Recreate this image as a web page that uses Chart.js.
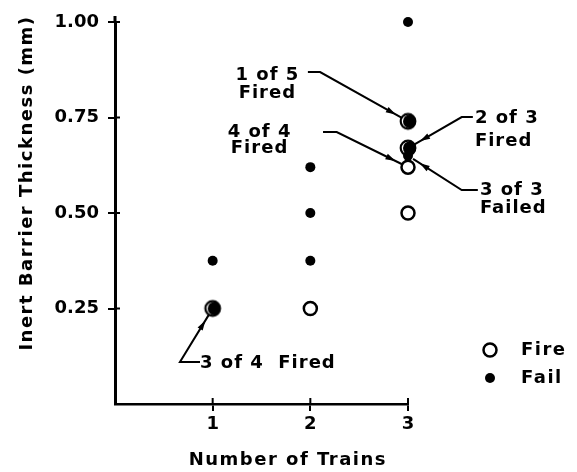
<!DOCTYPE html>
<html>
<head>
<meta charset="utf-8">
<script src="https://cdn.jsdelivr.net/npm/chart.js@4"></script>
<style>
  html, body { margin: 0; padding: 0; background: #fff; }
  #wrap { width: 577px; height: 472px; }
</style>
</head>
<body>
<div id="wrap"><canvas id="c"></canvas></div>
<script>
// data
const xTicks = [1, 2, 3];
const yTicks = [0.25, 0.50, 0.75, 1.00];
const fireX = [2, 3, 3];
const fireY = [0.25, 0.62, 0.50];
const failX = [1, 2, 2, 2, 3, 3];
const failY = [0.375, 0.62, 0.50, 0.375, 1.00, 0.65];
const mixX = [1, 3, 3];
const mixY = [0.25, 0.74, 0.67];
const noteText = [['1 of 5', 'Fired'], ['4 of 4', 'Fired'], ['2 of 3', 'Fired'], ['3 of 3', 'Failed'], ['3 of 4  Fired']];
const noteX = [3, 3, 3, 3, 1];
const noteY = [0.74, 0.62, 0.67, 0.65, 0.25];

// where the labels sit (in axis units) - layout only
const noteLayout = [
  { tx: 1.56, ty: 0.861, align: 'center', gap: 18, s: [1.975, 0.869], k: [2.10, 0.869] },
  { tx: 1.48, ty: 0.712, align: 'center', gap: 16, s: [2.13, 0.712], k: [2.27, 0.712] },
  { tx: 3.685, ty: 0.749, align: 'left', gap: 23, s: [3.664, 0.751], k: [3.55, 0.751] },
  { tx: 3.736, ty: 0.56, align: 'left', gap: 18, s: [3.715, 0.56], k: [3.55, 0.56] },
  { tx: 0.87, ty: 0.107, align: 'left', gap: 18, s: [0.87, 0.11], k: [0.665, 0.11] }
];

const FONT = '"DejaVu Sans", sans-serif';

function pts(xs, ys) { return xs.map((x, i) => ({ x: x, y: ys[i] })); }

// open circle with a filled dot over it (mixed result)
const mixImg = document.createElement('canvas');
mixImg.width = 20; mixImg.height = 20;
(function () {
  const g = mixImg.getContext('2d');
  g.lineWidth = 2.2; g.strokeStyle = '#000'; g.fillStyle = '#fff';
  g.beginPath(); g.arc(10, 10, 7.3, 0, Math.PI * 2); g.fill(); g.stroke();
  g.fillStyle = '#000';
  g.beginPath(); g.arc(11.6, 10, 6.6, 0, Math.PI * 2); g.fill();
})();

function arrowHead(ctx, x0, y0, x1, y1) {
  const a = Math.atan2(y1 - y0, x1 - x0);
  const len = 10, w = 3;
  ctx.save();
  ctx.translate(x1, y1); ctx.rotate(a);
  ctx.beginPath();
  ctx.moveTo(0, 0); ctx.lineTo(-len, -w); ctx.lineTo(-len, w); ctx.closePath();
  ctx.fill();
  ctx.restore();
}

const extras = {
  id: 'extras',
  beforeDatasetsDraw(chart) {
    const ctx = chart.ctx, xs = chart.scales.x, ys = chart.scales.y;
    ctx.save();
    ctx.strokeStyle = '#000'; ctx.fillStyle = '#000'; ctx.lineWidth = 2;
    const a = chart.chartArea;
    // axis runs a bit past 1.00 at the top
    ctx.lineWidth = 3;
    ctx.beginPath(); ctx.moveTo(a.left, a.top); ctx.lineTo(a.left, a.top - 6); ctx.stroke();
    ctx.lineWidth = 2;
    // inner halves of tick marks
    yTicks.forEach(v => {
      const py = ys.getPixelForValue(v);
      ctx.beginPath(); ctx.moveTo(a.left, py); ctx.lineTo(a.left + 5, py); ctx.stroke();
    });
    xTicks.forEach(v => {
      const px = xs.getPixelForValue(v);
      ctx.beginPath(); ctx.moveTo(px, a.bottom); ctx.lineTo(px, a.bottom - 6); ctx.stroke();
    });
    // leader lines
    noteLayout.forEach((n, i) => {
      const sx = xs.getPixelForValue(n.s[0]), sy = ys.getPixelForValue(n.s[1]);
      const kx = xs.getPixelForValue(n.k[0]), ky = ys.getPixelForValue(n.k[1]);
      const px = xs.getPixelForValue(noteX[i]), py = ys.getPixelForValue(noteY[i]);
      const d = Math.hypot(px - kx, py - ky);
      const ex = px - (px - kx) / d * 6, ey = py - (py - ky) / d * 6;
      ctx.beginPath(); ctx.moveTo(sx, sy); ctx.lineTo(kx, ky); ctx.lineTo(ex, ey); ctx.stroke();
      const hx = px - (px - kx) / d * 14, hy = py - (py - ky) / d * 14;
      arrowHead(ctx, kx, ky, hx, hy);
    });
    ctx.restore();
  },
  afterDraw(chart) {
    const ctx = chart.ctx, xs = chart.scales.x, ys = chart.scales.y, a = chart.chartArea;
    ctx.save();
    ctx.fillStyle = '#000';
    ctx.textBaseline = 'middle';
    ctx.font = 'bold 18px ' + FONT;
    ctx.letterSpacing = '1px';
    noteLayout.forEach((n, i) => {
      const tx = xs.getPixelForValue(n.tx), ty = ys.getPixelForValue(n.ty);
      ctx.textAlign = n.align;
      noteText[i].forEach((t, j) => ctx.fillText(t, tx, ty + j * n.gap));
    });
    // axis titles
    ctx.textAlign = 'center';
    ctx.letterSpacing = '1.5px';
    ctx.fillText('Number of Trains', a.left + (a.right - a.left) * 0.59, 460);
    ctx.save();
    ctx.translate(27, 183); ctx.rotate(-Math.PI / 2);
    ctx.fillText('Inert Barrier Thickness (mm)', 0, 0);
    ctx.restore();
    // legend
    ctx.letterSpacing = '1.5px';
    const lx = a.right + 82;
    ctx.lineWidth = 2.5; ctx.strokeStyle = '#000';
    ctx.beginPath(); ctx.arc(lx, 350, 6.5, 0, Math.PI * 2); ctx.stroke();
    ctx.beginPath(); ctx.arc(lx, 378, 5, 0, Math.PI * 2); ctx.fill();
    ctx.textAlign = 'left';
    ctx.fillText('Fire', lx + 31, 350);
    ctx.fillText('Fail', lx + 31, 378);
    ctx.restore();
  }
};

new Chart(document.getElementById('c'), {
  type: 'scatter',
  data: {
    datasets: [
      { label: 'Fire', data: pts(fireX, fireY), pointRadius: 6.5, pointBorderWidth: 2.5,
        pointBackgroundColor: '#fff', pointBorderColor: '#000', clip: false },
      { label: 'Fail', data: pts(failX, failY), pointRadius: 5, pointBorderWidth: 0,
        pointBackgroundColor: '#000', pointBorderColor: '#000', clip: false },
      { label: 'Mixed', data: pts(mixX, mixY), pointStyle: mixImg, clip: false }
    ]
  },
  options: {
    responsive: true,
    maintainAspectRatio: false,
    animation: false,
    events: [],
    layout: { padding: { left: 0, right: 169, top: 22, bottom: 0 } },
    plugins: { legend: { display: false }, tooltip: { enabled: false } },
    scales: {
      x: {
        type: 'linear', min: 0, max: 3,
        afterFit(s) { s.height = 68; },
        afterBuildTicks(s) { s.ticks = xTicks.map(v => ({ value: v })); },
        border: { display: true, color: '#000', width: 2.5 },
        grid: { drawOnChartArea: false, drawTicks: true, tickLength: 7, color: '#000', lineWidth: 2 },
        ticks: { color: '#000', padding: 3, font: { family: FONT, size: 18, weight: 'bold' },
                 maxRotation: 0, callback: v => String(v) }
      },
      y: {
        type: 'linear', min: 0, max: 1,
        afterFit(s) { s.width = 115; },
        afterBuildTicks(s) { s.ticks = yTicks.map(v => ({ value: v })); },
        border: { display: true, color: '#000', width: 3 },
        grid: { drawOnChartArea: false, drawTicks: true, tickLength: 7, color: '#000', lineWidth: 2 },
        ticks: { color: '#000', padding: 9, font: { family: FONT, size: 18, weight: 'bold' },
                 callback: v => Number(v).toFixed(2) }
      }
    }
  },
  plugins: [extras]
});
</script>
</body>
</html>
